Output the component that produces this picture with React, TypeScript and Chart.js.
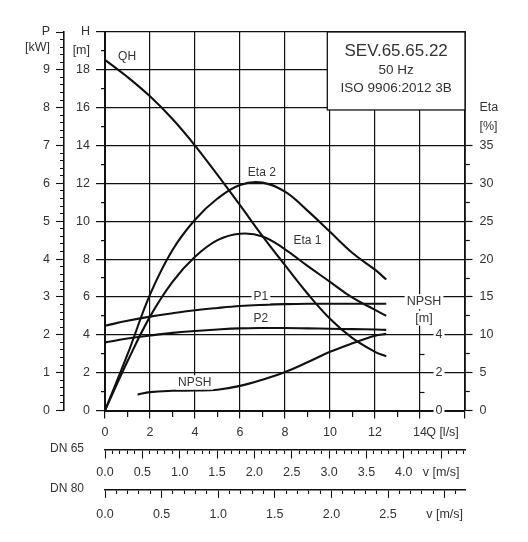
import React, { useEffect, useRef } from "react";
import { Chart, registerables } from "chart.js";

Chart.register(...registerables);

// ---------------- data ----------------
const Q = [0, 1, 2, 3, 4, 5, 6, 7, 8, 9, 10, 11, 12, 12.5];
const QH = [18.53, 17.62, 16.6, 15.4, 14.0, 12.45, 10.85, 9.22, 7.68, 6.18, 4.85, 3.82, 3.1, 2.86];
const ETA1 = [0, 6.5, 12.4, 17.0, 20.3, 22.5, 23.35, 23.0, 21.3, 19.1, 17.0, 14.9, 13.3, 12.5];
const ETA2 = [0, 7.4, 15.3, 21.2, 25.2, 28.0, 29.8, 30.1, 28.9, 26.4, 23.6, 20.8, 18.6, 17.3];
const P1 = [2.24, 2.37, 2.48, 2.57, 2.65, 2.71, 2.76, 2.79, 2.81, 2.82, 2.82, 2.82, 2.82, 2.82];
const P2 = [1.8, 1.9, 1.98, 2.05, 2.1, 2.14, 2.17, 2.18, 2.18, 2.17, 2.16, 2.15, 2.14, 2.13];
const Q_NPSH = [1.45, 2, 3, 4, 5, 6, 7, 8, 9, 10, 11, 12, 12.5];
const NPSH = [0.84, 0.97, 1.04, 1.06, 1.1, 1.3, 1.63, 2.03, 2.55, 3.1, 3.55, 3.95, 4.05];

// axis ranges / tick texts
const Q_MAX = 16;
const Q_LAST_LABEL = 14;
const Q_UNIT = "Q [l/s]";
const H_MAX = 20;
const P_MAX = 10;
const ETA_MAX = 50;
const ETA_LAST_LABEL = 35;
const V65_MAX = 4.82;
const V65_LAST_LABEL = 4.0;
const V80_MAX = 3.18;
const V80_LAST_LABEL = 2.5;
const V_UNIT = "v [m/s]";
const NPSH_AXIS_Q = 14;
const NPSH_LABELS = [0, 2, 4];
const NPSH_MINOR = [1, 3];
const TITLE_LINES = ["SEV.65.65.22", "50 Hz", "ISO 9906:2012 3B"];
const CURVE_NAMES = ["QH", "Eta 2", "Eta 1", "P1", "P2", "NPSH"];
const CURVE_NAME_Q = [0.98, 6.97, 9.0, 6.93, 6.93, 3.99];
const CURVE_NAME_H = [18.68, 12.58, 8.96, 6.03, 4.85, 1.48];

// ---------------- styles ----------------
const FONT = "'Liberation Sans', Arial, Helvetica, sans-serif";
const TEXT = "#333333";
const INK = "#111111";
const tickFont = { family: FONT, size: 12.5 };

const isMult = (v: number, step: number) => {
  const r = v / step;
  return Math.abs(r - Math.round(r)) < 1e-6;
};
const tv = (c: any) => (c && c.tick ? c.tick.value : NaN);

function drawText(
  ctx: CanvasRenderingContext2D,
  text: string,
  x: number,
  y: number,
  size: number,
  bg: boolean,
  align: CanvasTextAlign = "center"
) {
  ctx.font = `${size}px ${FONT}`;
  const w = ctx.measureText(text).width;
  const left = align === "center" ? x - w / 2 : align === "right" ? x - w : x;
  if (bg) {
    ctx.fillStyle = "#ffffff";
    ctx.fillRect(left - 2, y - size * 0.6, w + 4, size * 1.2);
  }
  ctx.fillStyle = TEXT;
  ctx.textAlign = align;
  ctx.textBaseline = "middle";
  ctx.fillText(text, x, y);
}

const annotations = {
  id: "annotations",
  afterDatasetsDraw(chart: any) {
    const { ctx, chartArea, scales } = chart;
    const xs = scales.x;
    const ys = scales.y;
    const yn = scales.yN;
    ctx.save();

    // curve names
    CURVE_NAMES.forEach((name, i) => {
      drawText(ctx, name, xs.getPixelForValue(CURVE_NAME_Q[i]), ys.getPixelForValue(CURVE_NAME_H[i]), 12, true);
    });

    // NPSH axis on the Q = 14 line
    const ax = xs.getPixelForValue(NPSH_AXIS_Q);
    ctx.strokeStyle = INK;
    ctx.lineWidth = 1.2;
    NPSH_MINOR.forEach((v) => {
      const y = Math.round(yn.getPixelForValue(v)) + 0.5;
      ctx.beginPath();
      ctx.moveTo(ax, y);
      ctx.lineTo(ax + 4.5, y);
      ctx.stroke();
    });
    NPSH_LABELS.forEach((v) => {
      drawText(ctx, String(v), ax + 19, yn.getPixelForValue(v), 12.5, true);
    });
    drawText(ctx, "NPSH", ax + 4, yn.getPixelForValue(5.75), 12.5, true);
    drawText(ctx, "[m]", ax + 4, yn.getPixelForValue(4.88), 12.5, true);

    // title box
    const bx1 = xs.getPixelForValue(9.88);
    const bx2 = xs.getPixelForValue(Q_MAX);
    const by1 = chartArea.top;
    const by2 = ys.getPixelForValue(15.88);
    ctx.fillStyle = "#ffffff";
    ctx.fillRect(bx1, by1, bx2 - bx1, by2 - by1);
    ctx.strokeStyle = INK;
    ctx.lineWidth = 1.3;
    ctx.strokeRect(bx1, by1, bx2 - bx1, by2 - by1);
    const cx = (bx1 + bx2) / 2;
    drawText(ctx, TITLE_LINES[0], cx, ys.getPixelForValue(19.0), 17, false);
    drawText(ctx, TITLE_LINES[1], cx, ys.getPixelForValue(18.0), 13.5, false);
    drawText(ctx, TITLE_LINES[2], cx, ys.getPixelForValue(17.0), 13.5, false);

    // DN labels
    drawText(ctx, "DN 65", chartArea.left - 21, scales.v65.top - 1, 12, false, "right");
    drawText(ctx, "DN 80", chartArea.left - 21, scales.v80.top - 1, 12, false, "right");

    ctx.restore();
  },
};

const pts = (xs: number[], ys: number[]) => xs.map((x, i) => ({ x, y: ys[i] }));

const lineStyle = {
  borderColor: INK,
  backgroundColor: INK,
  borderWidth: 2.1,
  pointRadius: 0,
  fill: false,
  tension: 0.4,
  capBezierPoints: false,
  xAxisID: "x",
};

export default function App() {
  const ref = useRef<HTMLCanvasElement>(null);

  useEffect(() => {
    if (!ref.current) return;
    const chart = new Chart(ref.current, {
      type: "line",
      data: {
        datasets: [
          { ...lineStyle, label: "QH", data: pts(Q, QH), yAxisID: "y" },
          { ...lineStyle, label: "Eta 1", data: pts(Q, ETA1), yAxisID: "yE" },
          { ...lineStyle, label: "Eta 2", data: pts(Q, ETA2), yAxisID: "yE" },
          { ...lineStyle, label: "P1", data: pts(Q, P1), yAxisID: "yP" },
          { ...lineStyle, label: "P2", data: pts(Q, P2), yAxisID: "yP" },
          { ...lineStyle, label: "NPSH", data: pts(Q_NPSH, NPSH), yAxisID: "yN" },
        ] as any,
      },
      options: {
        responsive: false,
        animation: false,
        events: [],
        layout: { padding: { top: 32, left: 0, right: 0, bottom: 0 }, autoPadding: false },
        plugins: { legend: { display: false }, tooltip: { enabled: false }, title: { display: false } },
        scales: {
          x: {
            type: "linear",
            position: "bottom",
            weight: 0,
            min: 0,
            max: Q_MAX,
            afterFit: (s: any) => {
              s.height = 39.5;
            },
            border: { display: true, color: INK, width: 2 },
            grid: {
              color: (c: any) => (isMult(tv(c), 2) ? INK : "rgba(0,0,0,0)"),
              lineWidth: 1.2,
              drawTicks: true,
              tickLength: 8,
              tickColor: INK,
              tickWidth: 1.2,
              tickBorderDash: (c: any) => (isMult(tv(c), 2) ? [] : [5, 100]),
            },
            ticks: {
              stepSize: 1,
              autoSkip: false,
              maxRotation: 0,
              includeBounds: false,
              padding: 7,
              color: TEXT,
              font: tickFont,
              callback: (v: any) =>
                v === Q_LAST_LABEL + 1 ? Q_UNIT : isMult(v, 2) && v <= Q_LAST_LABEL ? String(v) : "",
            },
          },
          v65: {
            type: "linear",
            position: "bottom",
            weight: 1,
            min: 0,
            max: V65_MAX,
            afterFit: (s: any) => {
              s.height = 39.3;
            },
            border: { display: true, color: INK, width: 1.5 },
            grid: {
              drawOnChartArea: false,
              drawTicks: true,
              tickLength: 8.5,
              tickColor: INK,
              tickWidth: 1.1,
              tickBorderDash: (c: any) => (isMult(tv(c), 0.5) ? [] : [3.5, 100]),
            },
            ticks: {
              stepSize: 0.1,
              autoSkip: false,
              maxRotation: 0,
              includeBounds: false,
              padding: 7,
              color: TEXT,
              font: tickFont,
              callback: (v: any) =>
                Math.abs(v - (V65_LAST_LABEL + 0.5)) < 1e-6
                  ? V_UNIT
                  : isMult(v, 0.5) && v <= V65_LAST_LABEL + 1e-6
                  ? Number(v).toFixed(1)
                  : "",
            },
          },
          v80: {
            type: "linear",
            position: "bottom",
            weight: 2,
            min: 0,
            max: V80_MAX,
            afterFit: (s: any) => {
              s.height = 52.7;
            },
            border: { display: true, color: INK, width: 1.5 },
            grid: {
              drawOnChartArea: false,
              drawTicks: true,
              tickLength: 8.5,
              tickColor: INK,
              tickWidth: 1.1,
              tickBorderDash: (c: any) => (isMult(tv(c), 0.5) ? [] : [3.5, 100]),
            },
            ticks: {
              stepSize: 0.1,
              autoSkip: false,
              maxRotation: 0,
              includeBounds: false,
              padding: 9,
              color: TEXT,
              font: tickFont,
              callback: (v: any) =>
                Math.abs(v - (V80_LAST_LABEL + 0.5)) < 1e-6
                  ? V_UNIT
                  : isMult(v, 0.5) && v <= V80_LAST_LABEL + 1e-6
                  ? Number(v).toFixed(1)
                  : "",
            },
          },
          y: {
            type: "linear",
            position: "left",
            weight: 0,
            min: 0,
            max: H_MAX,
            afterFit: (s: any) => {
              s.width = 41;
            },
            border: { display: true, color: INK, width: 2 },
            grid: {
              color: (c: any) => (isMult(tv(c), 2) ? INK : "rgba(0,0,0,0)"),
              lineWidth: 1.2,
              drawTicks: true,
              tickLength: 9,
              tickColor: INK,
              tickWidth: 1.2,
              tickBorderDash: (c: any) => (isMult(tv(c), 2) ? [] : [0, 5, 4, 100]),
            },
            ticks: {
              stepSize: 1,
              autoSkip: false,
              includeBounds: false,
              padding: 6,
              color: TEXT,
              font: tickFont,
              callback: (v: any) =>
                v === H_MAX ? "H" : v === H_MAX - 1 ? "[m]" : isMult(v, 2) ? String(v) : "",
            },
          },
          yP: {
            type: "linear",
            position: "left",
            weight: 1,
            min: 0,
            max: P_MAX,
            afterFit: (s: any) => {
              s.width = 64;
            },
            border: { display: true, color: INK, width: 1.6 },
            grid: {
              drawOnChartArea: false,
              drawTicks: true,
              tickLength: 8,
              tickColor: INK,
              tickWidth: 1.1,
              tickBorderDash: (c: any) => (isMult(tv(c), 1) ? [] : [0, 4, 4, 100]),
            },
            ticks: {
              stepSize: 0.2,
              autoSkip: false,
              includeBounds: false,
              padding: 6,
              color: TEXT,
              font: tickFont,
              callback: (v: any) =>
                Math.abs(v - P_MAX) < 1e-6
                  ? "P"
                  : Math.abs(v - (P_MAX - 0.4)) < 1e-6
                  ? "[kW]"
                  : isMult(v, 1)
                  ? String(Math.round(v))
                  : "",
            },
          },
          yE: {
            type: "linear",
            position: "right",
            min: 0,
            max: ETA_MAX,
            afterFit: (s: any) => {
              s.width = 63;
            },
            border: { display: true, color: INK, width: 1.8 },
            grid: {
              drawOnChartArea: false,
              drawTicks: true,
              tickLength: 7.5,
              tickColor: (c: any) => (tv(c) <= ETA_LAST_LABEL + 1e-6 ? INK : "rgba(0,0,0,0)"),
              tickWidth: 1.2,
              tickBorderDash: (c: any) => (isMult(tv(c), 5) ? [] : [4, 100]),
            },
            ticks: {
              stepSize: 2.5,
              autoSkip: false,
              includeBounds: false,
              padding: 7,
              color: TEXT,
              font: tickFont,
              callback: (v: any) =>
                Math.abs(v - (ETA_LAST_LABEL + 5)) < 1e-6
                  ? "Eta"
                  : Math.abs(v - (ETA_LAST_LABEL + 2.5)) < 1e-6
                  ? "[%]"
                  : isMult(v, 5) && v <= ETA_LAST_LABEL
                  ? String(Math.round(v))
                  : "",
            },
          },
          yN: {
            type: "linear",
            display: false,
            min: 0,
            max: H_MAX,
          },
        } as any,
      },
      plugins: [annotations],
    });
    return () => chart.destroy();
  }, []);

  return (
    <div style={{ position: "absolute", left: 0, top: 0, width: 528, height: 542, background: "#ffffff" }}>
      <canvas ref={ref} width={528} height={542} style={{ display: "block", width: 528, height: 542 }} />
    </div>
  );
}
